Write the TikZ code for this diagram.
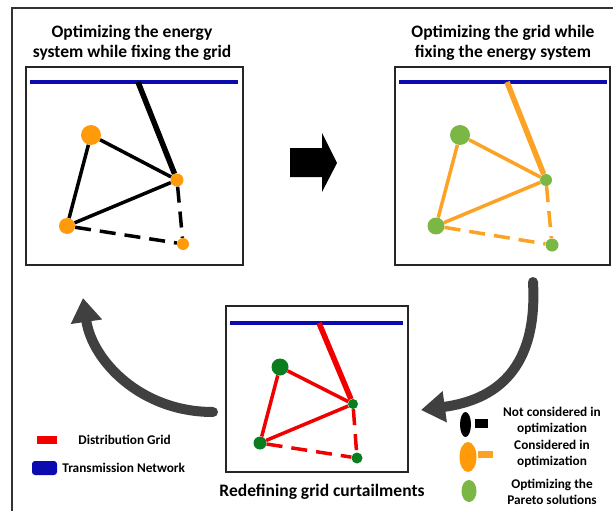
\documentclass[tikz,border=0pt]{standalone}
\usepackage{fontspec}
\setmainfont{Carlito}
\usetikzlibrary{arrows.meta,positioning,shapes.geometric}

\definecolor{eorange}{HTML}{FF9A0A}
\definecolor{lorange}{HTML}{FCA224}
\definecolor{pgreen}{HTML}{7AB744}
\definecolor{dgreen}{HTML}{0A7D1F}
\definecolor{dgred}{HTML}{F20000}
\definecolor{tnblue}{HTML}{0B0BB0}
\definecolor{arrgray}{HTML}{404040}

\begin{document}
\begin{tikzpicture}[x=1pt, y=-1pt,
    panel/.style={draw=black!85, line width=1.4pt, inner sep=0pt},
    bus/.style={circle, inner sep=0pt, fill=#1},
    keyshape/.style={ellipse, inner sep=0pt, fill=#1},
    keyline/.style={rectangle, inner sep=0pt, fill=#1},
    gridln/.style={draw=#1, line width=3.5pt},
    feedln/.style={draw=#1, line width=5.5pt},
    openln/.style={draw=#1, line width=3.5pt, dash pattern=on 16pt off 9pt},
    trans/.style={draw=tnblue, line width=3.5pt},
    cyclearr/.style={draw=arrgray, line width=10pt, line cap=round,
                     -{Triangle[length=24pt,width=30pt]}},
    title/.style={font=\fontsize{17.5}{20}\selectfont\bfseries, align=center},
    lgd/.style={font=\fontsize{13.3}{16}\selectfont\bfseries, align=center, inner sep=0pt}
]
    \useasboundingbox (0,0) rectangle (613,511);
    \clip (0,0) rectangle (613,511);

    % Outer frame
    \draw[draw=black!80, line width=1.3pt] (12,530) |- (630,8);

    % Panels
    \node[panel, minimum width=217pt, minimum height=198pt] (panA) at (134.5,166) {};
    \node[panel, minimum width=215pt, minimum height=198pt] (panB) at (502.5,166) {};
    \node[panel, minimum width=182pt, minimum height=166pt] (panC) at (317,389) {};

    % Titles
    \node[title] (ttlA) at (132,43) {Optimizing the energy\\system while fixing the grid};
    \node[title] (ttlB) at (503,43) {Optimizing the grid while\\fixing the energy system};
    \node[title] (ttlC) at (322,492) {Redefining grid curtailments};

    % Transmission lines
    \coordinate (aW) at (30,82);   \coordinate (aE) at (238,82);  \coordinate (aTap) at (138,82);
    \coordinate (bW) at (399,82);  \coordinate (bE) at (607,82);  \coordinate (bTap) at (507,82);
    \coordinate (cW) at (230,323); \coordinate (cE) at (403,323); \coordinate (cTap) at (319,323);

    % Buses
    \node[bus=eorange, minimum size=20pt] (aBig) at (91,135) {};
    \node[bus=eorange, minimum size=13pt] (aHub) at (177,180) {};
    \node[bus=eorange, minimum size=16pt] (aLow) at (67,226) {};
    \node[bus=eorange, minimum size=12pt] (aEnd) at (183,244) {};

    \node[bus=pgreen, minimum size=20pt] (bBig) at (460,135) {};
    \node[bus=pgreen, minimum size=12pt] (bHub) at (546,180) {};
    \node[bus=pgreen, minimum size=17pt] (bLow) at (436,226) {};
    \node[bus=pgreen, minimum size=13pt] (bEnd) at (552,245) {};

    \node[bus=dgreen, minimum size=17pt] (cBig) at (280,367) {};
    \node[bus=dgreen, minimum size=10pt] (cHub) at (353,404) {};
    \node[bus=dgreen, minimum size=13pt] (cLow) at (260,443) {};
    \node[bus=dgreen, minimum size=11pt] (cEnd) at (357,458) {};

    % Lines
    \foreach \p/\lc in {a/black, b/lorange, c/dgred} {
        \draw[trans] (\p W) -- (\p E);
        \draw[feedln=\lc] (\p Tap) -- (\p Hub);
        \draw[gridln=\lc] (\p Big) -- (\p Hub) (\p Big) -- (\p Low) (\p Low) -- (\p Hub);
        \draw[openln=\lc] (\p Hub) -- (\p End) (\p Low) -- (\p End);
    }

    % Iteration arrows
    \fill[black] (290,148) -- (322,148) -- (322,133) -- (337,163) -- (322,192)
        -- (322,177) -- (290,177) -- cycle;
    \coordinate (loopBs) at (533,282); \coordinate (loopBe) at (421,410);
    \draw[cyclearr] (loopBs) .. controls (538,370) and (495,400) .. (loopBe);
    \coordinate (loopCs) at (213,412); \coordinate (loopCe) at (83,298);
    \draw[cyclearr] (loopCs) .. controls (140,412) and (92,360) .. (loopCe);

    % Legend
    \node[keyline=dgred, minimum width=20pt, minimum height=8pt] (keyDist) at (47,440) {};
    \node[lgd, right=21pt of keyDist] (txtDist) {Distribution Grid};
    \node[keyline=tnblue, rounded corners=3pt, minimum width=25pt, minimum height=14pt] (keyTrans) at (44.5,468) {};
    \node[lgd, right=5pt of keyTrans] (txtTrans) {Transmission Network};

    \node[keyshape=black, minimum width=11pt, minimum height=25pt] (keyOff) at (465.5,424.5) {};
    \node[keyline=black, minimum width=13pt, minimum height=9pt] (keyOffLn) at (481.5,423.5) {};
    \node[keyshape=eorange, minimum width=17pt, minimum height=30pt] (keyOn) at (468,457) {};
    \node[keyline=lorange, minimum width=15pt, minimum height=7pt] (keyOnLn) at (485.5,454.5) {};
    \node[keyshape=pgreen, minimum width=15pt, minimum height=22pt] (keyPar) at (469,491) {};

    \node[lgd] (txtOff) at (552,421) {Not considered in\\optimization};
    \node[lgd] (txtOn)  at (552,454) {Considered in\\optimization};
    \node[lgd] (txtPar) at (552,492) {Optimizing the\\Pareto solutions};
\end{tikzpicture}
\end{document}
